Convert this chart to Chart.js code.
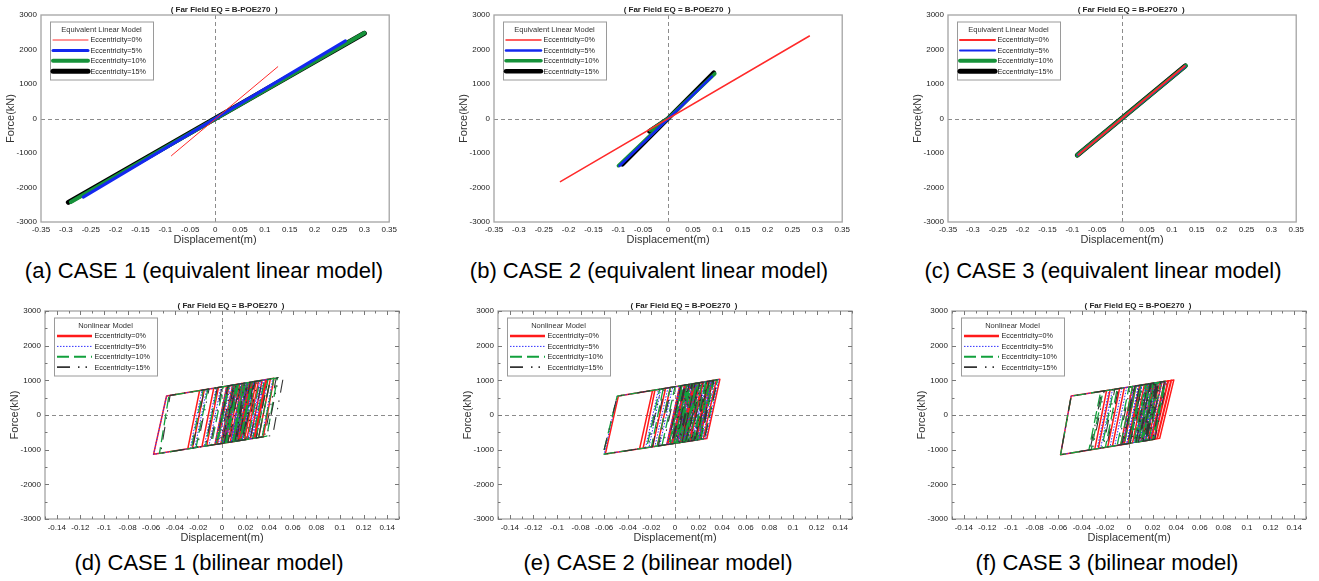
<!DOCTYPE html>
<html>
<head>
<meta charset="utf-8">
<script src="https://cdn.jsdelivr.net/npm/chart.js@4.4.1/dist/chart.umd.min.js"></script>
<style>
  html, body { margin: 0; padding: 0; background: #fff; width: 1319px; height: 581px; overflow: hidden; }
  canvas { position: absolute; }
  .cap { position: absolute; width: 440px; text-align: center; white-space: nowrap;
         font-family: "Liberation Sans", Arial, sans-serif; font-size: 22px; line-height: 26px; color: #000; }
</style>
</head>
<body>
<canvas id="pa" width="400" height="250" style="left:0px;top:0px"></canvas>
<canvas id="pb" width="400" height="250" style="left:453px;top:0px"></canvas>
<canvas id="pc" width="400" height="250" style="left:907px;top:0px"></canvas>
<canvas id="pd" width="400" height="253" style="left:4px;top:296px"></canvas>
<canvas id="pe" width="400" height="253" style="left:457px;top:296px"></canvas>
<canvas id="pf" width="400" height="253" style="left:911px;top:296px"></canvas>
<div class="cap" style="left:-16px;top:258px">(a) CASE 1 (equivalent linear model)</div>
<div class="cap" style="left:429px;top:258px">(b) CASE 2 (equivalent linear model)</div>
<div class="cap" style="left:883px;top:258px">(c) CASE 3 (equivalent linear model)</div>
<div class="cap" style="left:-11px;top:550px">(d) CASE 1 (bilinear model)</div>
<div class="cap" style="left:438px;top:550px">(e) CASE 2 (bilinear model)</div>
<div class="cap" style="left:887px;top:550px">(f) CASE 3 (bilinear model)</div>
<script>
const FONT = '"Liberation Sans", Arial, sans-serif';

// axis ticks
const topXTicks = [-0.35, -0.3, -0.25, -0.2, -0.15, -0.1, -0.05, 0, 0.05, 0.1, 0.15, 0.2, 0.25, 0.3, 0.35];
const botXTicks = [-0.14, -0.12, -0.1, -0.08, -0.06, -0.04, -0.02, 0, 0.02, 0.04, 0.06, 0.08, 0.1, 0.12, 0.14];
const yTicks = [-3000, -2000, -1000, 0, 1000, 2000, 3000];

const seriesNames = ["Eccentricity=0%", "Eccentricity=5%", "Eccentricity=10%", "Eccentricity=15%"];
const plotTitle = "( Far Field EQ = B-POE270  )";

// equivalent linear model  [displacement m, force kN]
const aRed = [[-0.088, -1080], [0.126, 1500]];
const aBlue = [[-0.265, -2280], [0.262, 2250]];
const aGreen = [[-0.29, -2420], [0.30, 2480]];
const aBlack = [[-0.295, -2430], [0.30, 2470]];

const bRed = [[-0.2165, -1832], [0.284, 2391]];
const bBlue = [[-0.098, -1377], [0.088, 1212]];
const bGreen = [[-0.036, -340], [0, 0], [0.094, 1300], [-0.1, -1370]];
const bBlack = [[-0.038, -370], [0, 0], [0.092, 1330], [-0.092, -1330]];

const cRed = [[-0.088, -1050], [0.126, 1520]];
const cBlue = [[-0.089, -1058], [0.127, 1515]];
const cGreen = [[-0.09, -1062], [0.128, 1530]];
const cBlack = [[-0.09, -1060], [0.127, 1525]];

// bilinear model hysteresis turning points
const dRed = [[0,0],[0.006,845],[0.011,873],[0.001,-814],[-0.004,-841],[0.006,845],[0.013,884],[0.003,-803],
  [-0.058,-1135],[-0.047,548],[-0.015,727],[-0.025,-955],[-0.029,-977],[-0.019,705],[-0.003,794],
  [-0.013,-890],[-0.017,-912],[-0.007,772],[0.009,861],[-0.001,-824],[-0.006,-852],[0.004,833],
  [0.017,906],[0.007,-781],[0.002,-808],[0.012,878],[0.024,945],[0.014,-743],[0.009,-770],
  [0.019,917],[0.031,985],[0.021,-705],[0.015,-737],[0.025,951],[0.044,1057],[0.035,-628],
  [0.028,-666],[0.038,1024],[0.041,1041],[0.031,-650],[0.024,-688],[0.034,1001],[0.037,1018],
  [0.027,-672],[0.016,-732],[0.026,957],[0.029,973],[0.019,-716],[0.011,-759],[0.021,929],
  [0.023,940],[0.013,-748],[0.005,-792],[0.015,895],[0.018,912],[0.010,-765],[0.014,100]];
const dBlue = [[0,0],[0.005,839],[0.009,861],[-0.001,-824],[-0.006,-852],[0.004,833],[0.012,878],[0.002,-808],
  [-0.058,-1135],[-0.047,548],[-0.013,738],[-0.023,-944],[-0.027,-966],[-0.017,716],[-0.001,805],
  [-0.011,-879],[-0.015,-901],[-0.005,783],[0.011,873],[0.001,-814],[-0.003,-835],[0.007,850],
  [0.020,923],[0.010,-765],[0.004,-797],[0.014,889],[0.027,962],[0.017,-726],[0.011,-759],
  [0.021,929],[0.033,996],[0.023,-694],[0.017,-726],[0.027,962],[0.043,1052],[0.034,-634],
  [0.026,-677],[0.036,1013],[0.039,1030],[0.029,-661],[0.022,-699],[0.032,990],[0.035,1007],
  [0.025,-683],[0.013,-748],[0.023,940],[0.027,962],[0.017,-726],[0.008,-775],[0.018,912],
  [0.021,929],[0.011,-759],[0.003,-803],[0.013,884],[0.016,901],[0.008,-775],[0.012,80]];
const dGreen = [[0,0],[0.005,839],[0.010,867],[0.000,-819],[-0.005,-846],[0.005,839],[0.012,878],[0.002,-808],
  [-0.053,-1108],[-0.045,559],[-0.012,744],[-0.022,-939],[-0.026,-961],[-0.016,721],[0.001,817],
  [-0.009,-868],[-0.014,-895],[-0.004,789],[0.010,867],[0.000,-819],[-0.004,-841],[0.006,845],
  [0.019,917],[0.009,-770],[0.003,-803],[0.013,884],[0.025,951],[0.015,-737],[0.010,-765],
  [0.020,923],[0.032,990],[0.022,-699],[0.016,-732],[0.026,957],[0.047,1074],[0.038,-612],
  [0.031,-650],[0.041,1041],[0.044,1057],[0.034,-634],[0.026,-677],[0.036,1013],[0.039,1030],
  [0.029,-661],[0.015,-737],[0.025,951],[0.028,968],[0.018,-721],[0.009,-770],[0.019,917],
  [0.022,934],[0.012,-754],[0.004,-797],[0.014,889],[0.017,906],[0.009,-770],[0.015,120]];
const dBlack = [[0,0],[0.006,845],[0.010,867],[0.000,-819],[-0.005,-846],[0.005,839],[0.011,873],[0.001,-814],
  [-0.052,-1102],[-0.044,565],[-0.011,749],[-0.021,-933],[-0.025,-955],[-0.015,727],[0.000,811],
  [-0.010,-874],[-0.014,-895],[-0.004,789],[0.012,878],[0.002,-808],[-0.002,-830],[0.008,856],
  [0.021,929],[0.011,-759],[0.005,-792],[0.015,895],[0.028,968],[0.018,-721],[0.012,-754],
  [0.022,934],[0.034,1001],[0.024,-688],[0.018,-721],[0.028,968],[0.052,1102],[0.043,-585],
  [0.036,-623],[0.046,1069],[0.048,1080],[0.038,-612],[0.029,-661],[0.039,1030],[0.041,1041],
  [0.031,-650],[0.017,-726],[0.027,962],[0.030,979],[0.020,-710],[0.011,-759],[0.021,929],
  [0.024,945],[0.014,-743],[0.006,-786],[0.016,901],[0.019,917],[0.011,-759],[0.016,130]];

const eRed = [[0,0],[0.005,844],[0.009,866],[-0.002,-827],[-0.006,-848],[0.005,844],[0.010,872],[-0.001,-822],
  [-0.059,-1123],[-0.048,548],[-0.017,721],[-0.027,-957],[-0.030,-973],[-0.019,710],[-0.004,794],
  [-0.015,-895],[-0.019,-916],[-0.008,771],[0.008,861],[-0.003,-833],[-0.007,-853],[0.004,838],
  [0.016,905],[0.005,-791],[0.001,-812],[0.012,883],[0.023,945],[0.012,-755],[0.007,-781],
  [0.018,917],[0.029,978],[0.018,-724],[0.013,-750],[0.024,950],[0.038,1028],[0.027,-677],
  [0.021,-708],[0.032,995],[0.035,1012],[0.024,-692],[0.017,-729],[0.028,973],[0.031,989],
  [0.020,-713],[0.010,-765],[0.021,933],[0.024,950],[0.013,-750],[0.006,-786],[0.017,911],
  [0.019,922],[0.008,-775],[0.002,-807],[0.013,889],[0.015,900],[0.004,-796],[0.009,60]];
const eBlue = [[0,0],[0.005,844],[0.008,861],[-0.003,-833],[-0.007,-853],[0.004,838],[0.011,877],[0.000,-817],
  [-0.060,-1128],[-0.049,542],[-0.012,749],[-0.022,-931],[-0.025,-947],[-0.014,738],[-0.002,805],
  [-0.013,-884],[-0.017,-905],[-0.006,782],[0.010,872],[-0.001,-822],[-0.005,-843],[0.006,850],
  [0.018,917],[0.007,-781],[0.002,-807],[0.013,889],[0.025,956],[0.014,-744],[0.009,-770],
  [0.020,928],[0.031,989],[0.020,-713],[0.015,-739],[0.026,961],[0.037,1023],[0.026,-682],
  [0.020,-713],[0.031,989],[0.034,1006],[0.023,-698],[0.016,-734],[0.027,967],[0.030,984],
  [0.019,-718],[0.008,-775],[0.019,922],[0.022,939],[0.011,-760],[0.004,-796],[0.015,900],
  [0.018,917],[0.007,-781],[0.001,-812],[0.012,883],[0.014,894],[0.003,-801],[0.008,50]];
const eGreen = [[0,0],[0.006,850],[0.010,872],[-0.001,-822],[-0.005,-843],[0.006,850],[0.012,883],[0.001,-812],
  [-0.061,-1134],[-0.049,542],[-0.010,760],[-0.020,-921],[-0.024,-942],[-0.013,743],[0.000,816],
  [-0.011,-874],[-0.015,-895],[-0.004,794],[0.011,877],[0.000,-817],[-0.004,-838],[0.007,855],
  [0.019,922],[0.008,-775],[0.003,-801],[0.014,894],[0.026,961],[0.015,-739],[0.010,-765],
  [0.021,933],[0.032,995],[0.021,-708],[0.016,-734],[0.027,967],[0.036,1017],[0.025,-687],
  [0.019,-718],[0.030,984],[0.033,1000],[0.022,-703],[0.015,-739],[0.026,961],[0.029,978],
  [0.018,-724],[0.009,-770],[0.020,928],[0.023,945],[0.012,-755],[0.005,-791],[0.016,905],
  [0.018,917],[0.007,-781],[0.002,-807],[0.013,889],[0.016,905],[0.005,-791],[0.010,70]];
const eBlack = [[0,0],[0.005,844],[0.009,866],[-0.002,-827],[-0.006,-848],[0.005,844],[0.011,877],[0.000,-817],
  [-0.061,-1134],[-0.049,542],[-0.009,766],[-0.019,-916],[-0.023,-936],[-0.012,749],[0.001,822],
  [-0.010,-869],[-0.014,-890],[-0.003,799],[0.012,883],[0.001,-812],[-0.003,-833],[0.008,861],
  [0.020,928],[0.009,-770],[0.004,-796],[0.015,900],[0.027,967],[0.016,-734],[0.011,-760],
  [0.022,939],[0.033,1000],[0.022,-703],[0.017,-729],[0.028,973],[0.036,1017],[0.025,-687],
  [0.018,-724],[0.029,978],[0.032,995],[0.021,-708],[0.014,-744],[0.025,956],[0.028,973],
  [0.017,-729],[0.010,-765],[0.021,933],[0.024,950],[0.013,-750],[0.006,-786],[0.017,911],
  [0.020,928],[0.009,-770],[0.003,-801],[0.014,894],[0.017,911],[0.006,-786],[0.011,80]];

const fRed = [[0,0],[0.005,835],[0.009,856],[-0.001,-826],[-0.005,-848],[0.005,835],[0.010,862],[0.000,-820],
  [-0.058,-1145],[-0.049,545],[-0.016,722],[-0.026,-966],[-0.029,-982],[-0.019,706],[-0.004,786],
  [-0.014,-898],[-0.018,-921],[-0.008,765],[0.006,840],[-0.004,-842],[-0.007,-859],[0.003,824],
  [0.013,878],[0.003,-803],[-0.001,-826],[0.009,856],[0.021,921],[0.011,-758],[0.006,-786],
  [0.016,894],[0.038,1012],[0.026,-674],[0.0235,-688],[0.0355,999],[0.036,1001],[0.024,-686],
  [0.021,-702],[0.033,985],[0.0335,988],[0.0215,-700],[0.018,-719],[0.0305,972],[0.031,974],
  [0.019,-713],[0.014,-742],[0.026,948],[0.028,958],[0.016,-730],[0.012,-753],[0.022,926],
  [0.024,937],[0.014,-742],[0.008,-775],[0.018,905],[0.020,915],[0.010,-764],[0.015,70]];
const fBlue = [[0,0],[0.005,835],[0.008,851],[-0.002,-831],[-0.006,-854],[0.004,829],[0.011,867],[0.001,-814],
  [-0.058,-1145],[-0.049,545],[-0.014,733],[-0.024,-954],[-0.027,-971],[-0.017,717],[-0.002,797],
  [-0.012,-887],[-0.016,-910],[-0.006,776],[0.008,851],[-0.002,-831],[-0.005,-848],[0.005,835],
  [0.015,889],[0.005,-792],[0.001,-814],[0.011,867],[0.023,932],[0.013,-747],[0.008,-775],
  [0.018,905],[0.031,974],[0.021,-702],[0.015,-736],[0.025,942],[0.028,958],[0.018,-719],
  [0.012,-753],[0.022,926],[0.025,942],[0.015,-736],[0.010,-764],[0.020,915],[0.023,932],
  [0.013,-747],[0.007,-781],[0.017,899],[0.019,910],[0.009,-770],[0.004,-798],[0.014,883],
  [0.016,894],[0.006,-786],[0.011,50]];
const fGreen = [[0,0],[0.006,840],[0.010,862],[0.000,-820],[-0.004,-842],[0.006,840],[0.011,867],[0.001,-814],
  [-0.058,-1145],[-0.049,545],[-0.022,690],[-0.032,-999],[-0.034,-1010],[-0.024,679],[-0.010,754],
  [-0.020,-932],[-0.023,-949],[-0.013,738],[0.003,824],[-0.007,-859],[-0.010,-876],[0.000,808],
  [0.014,883],[0.004,-798],[0.000,-820],[0.010,862],[0.022,926],[0.012,-753],[0.007,-781],
  [0.017,899],[0.030,969],[0.020,-708],[0.014,-742],[0.024,937],[0.031,974],[0.021,-702],
  [0.015,-736],[0.025,942],[0.027,953],[0.017,-725],[0.011,-758],[0.021,921],[0.024,937],
  [0.014,-742],[0.008,-775],[0.018,905],[0.020,915],[0.010,-764],[0.005,-792],[0.015,889],
  [0.017,899],[0.007,-781],[0.012,60]];
const fBlack = [[0,0],[0.005,835],[0.009,856],[-0.001,-826],[-0.005,-848],[0.005,835],[0.012,872],[0.002,-809],
  [-0.058,-1145],[-0.049,545],[-0.021,695],[-0.031,-994],[-0.033,-1005],[-0.023,685],[-0.009,760],
  [-0.019,-926],[-0.022,-943],[-0.012,744],[0.004,829],[-0.006,-854],[-0.009,-870],[0.001,813],
  [0.015,889],[0.005,-792],[0.001,-814],[0.011,867],[0.023,932],[0.013,-747],[0.008,-775],
  [0.018,905],[0.032,980],[0.022,-697],[0.016,-730],[0.026,948],[0.030,969],[0.020,-708],
  [0.014,-742],[0.024,937],[0.027,953],[0.017,-725],[0.012,-753],[0.022,926],[0.025,942],
  [0.015,-736],[0.009,-770],[0.019,910],[0.021,921],[0.011,-758],[0.006,-786],[0.016,894],
  [0.018,905],[0.008,-775],[0.013,70]];

// styles
const linStyle = {
  a: [{c: "#ff2a2a", w: 1}, {c: "#1428f0", w: 3}, {c: "#16923a", w: 4}, {c: "#000", w: 5}],
  b: [{c: "#ff2a2a", w: 1.5}, {c: "#1428f0", w: 2.5}, {c: "#16923a", w: 3.5}, {c: "#000", w: 4.5}],
  c: [{c: "#ff2a2a", w: 2}, {c: "#1428f0", w: 2}, {c: "#16923a", w: 4}, {c: "#000", w: 5}]
};
const bilStyle = [
  {c: "#ff1a1a", w: 1.5, lw: 2.5, dash: [], order: 4},
  {c: "#3030ff", w: 1, lw: 1, dash: [1.5, 1.5], order: 3},
  {c: "#12a03c", w: 1.3, lw: 2, dash: [12, 5], order: 2},
  {c: "#333", w: 1.1, lw: 1.8, dash: [13, 8, 1.5, 6, 1.5, 8], order: 1}
];

// frame, zero lines, tick marks, title and legend
Chart.register({
  id: 'deco',
  beforeDatasetsDraw(chart, args, o) {
    const {ctx, chartArea: a, scales: {x, y}} = chart;
    const x0 = Math.round(x.getPixelForValue(0)) + 0.5;
    const y0 = Math.round(y.getPixelForValue(0)) + 0.5;
    ctx.save();
    ctx.strokeStyle = '#8c8c8c';
    ctx.lineWidth = 1;
    ctx.setLineDash([4, 3]);
    ctx.beginPath();
    ctx.moveTo(x0, a.top); ctx.lineTo(x0, a.bottom);
    ctx.moveTo(a.left, y0); ctx.lineTo(a.right, y0);
    ctx.stroke();
    ctx.restore();
  },
  afterDatasetsDraw(chart, args, o) {
    const {ctx, chartArea: a, scales: {x, y}} = chart;
    ctx.save();
    ctx.setLineDash([]);
    ctx.strokeStyle = '#a4a4a4';
    ctx.lineWidth = 1.3;
    ctx.strokeRect(a.left, a.top, a.right - a.left, a.bottom - a.top);

    if (o.tickMarks) {
      ctx.strokeStyle = '#777';
      ctx.lineWidth = 1;
      ctx.beginPath();
      for (let k = -15; k <= 15; k++) {
        const px = Math.round(x.getPixelForValue(k / 100)) + 0.5;
        const len = k % 2 === 0 ? 4 : 2.5;
        ctx.moveTo(px, a.bottom); ctx.lineTo(px, a.bottom - len);
        ctx.moveTo(px, a.top); ctx.lineTo(px, a.top + len);
      }
      for (let k = -6; k <= 6; k++) {
        const py = Math.round(y.getPixelForValue(k * 500)) + 0.5;
        const len = k % 2 === 0 ? 4 : 2.5;
        ctx.moveTo(a.left, py); ctx.lineTo(a.left + len, py);
        ctx.moveTo(a.right, py); ctx.lineTo(a.right - len, py);
      }
      ctx.stroke();
    }

    // title
    ctx.fillStyle = '#222';
    ctx.font = 'bold 8px ' + FONT;
    ctx.textAlign = 'center';
    ctx.textBaseline = 'middle';
    ctx.fillText(plotTitle, (a.left + a.right) / 2 + 9, a.top - 5);

    // legend
    const L = a.left + 9, T = a.top + 6.5, W = 103, H = 58;
    ctx.fillStyle = '#fff';
    ctx.fillRect(L, T, W, H);
    ctx.strokeStyle = '#9a9a9a';
    ctx.lineWidth = 1;
    ctx.strokeRect(L + 0.5, T + 0.5, W, H);
    ctx.fillStyle = '#333';
    ctx.font = '7.5px ' + FONT;
    ctx.fillText(o.legendTitle, L + W / 2, a.top + 14.5);
    ctx.textAlign = 'left';
    ctx.font = '7.2px ' + FONT;
    chart.data.datasets.forEach((ds, i) => {
      const ry = a.top + 25 + i * 10.4;
      ctx.save();
      ctx.strokeStyle = ds.borderColor;
      ctx.lineWidth = ds.legendWidth || ds.borderWidth;
      ctx.setLineDash(ds.borderDash || []);
      ctx.lineCap = ds.borderCapStyle || 'butt';
      ctx.beginPath();
      ctx.moveTo(a.left + 12, ry); ctx.lineTo(a.left + 47, ry);
      ctx.stroke();
      ctx.restore();
      ctx.fillStyle = '#222';
      ctx.fillText(ds.label, a.left + 49.5, ry + 0.5);
    });
    ctx.restore();
  }
});

function makeChart(id, series, styles, xTicks, xRange, xAxisH, legendTitle, tickMarks) {
  return new Chart(document.getElementById(id), {
    type: 'scatter',
    data: {
      datasets: series.map((pts, i) => ({
        label: seriesNames[i],
        data: pts.map(p => ({x: p[0], y: p[1]})),
        showLine: true,
        pointRadius: 0,
        pointHoverRadius: 0,
        borderColor: styles[i].c,
        borderWidth: styles[i].w,
        legendWidth: styles[i].lw,
        borderDash: styles[i].dash || [],
        borderCapStyle: styles[i].dash ? 'butt' : 'round',
        borderJoinStyle: 'round',
        tension: 0,
        fill: false,
        order: styles[i].order || i
      }))
    },
    options: {
      responsive: false,
      animation: false,
      devicePixelRatio: 1,
      events: [],
      layout: {padding: {top: 15, right: 5, left: 0, bottom: 0}},
      plugins: {
        legend: {display: false},
        tooltip: {enabled: false},
        deco: {legendTitle, tickMarks}
      },
      scales: {
        x: {
          type: 'linear', min: -xRange, max: xRange,
          afterBuildTicks: s => { s.ticks = xTicks.map(v => ({value: v})); },
          afterFit: s => { s.height = xAxisH; },
          grid: {display: false, drawTicks: false},
          border: {display: false},
          ticks: {autoSkip: false, maxRotation: 0, minRotation: 0, padding: xAxisH > 28 ? 4 : 3,
                   color: '#222', font: {family: FONT, size: 8}, callback: v => String(v)},
          title: {display: true, text: 'Displacement(m)', color: '#333',
                  font: {family: FONT, size: 11}, padding: {top: 0, bottom: xAxisH > 28 ? 4.4 : 3.4}}
        },
        y: {
          type: 'linear', min: -3000, max: 3000,
          afterBuildTicks: s => { s.ticks = yTicks.map(v => ({value: v})); },
          afterFit: s => { s.width = 41; },
          grid: {display: false, drawTicks: false},
          border: {display: false},
          ticks: {autoSkip: false, padding: 4, color: '#222', font: {family: FONT, size: 8},
                  callback: v => String(v)},
          title: {display: true, text: 'Force(kN)', color: '#333',
                  font: {family: FONT, size: 11}, padding: {top: 4, bottom: 0}}
        }
      }
    }
  });
}

makeChart('pa', [aRed, aBlue, aGreen, aBlack], linStyle.a, topXTicks, 0.35, 28, 'Equivalent Linear Model', false);
makeChart('pb', [bRed, bBlue, bGreen, bBlack], linStyle.b, topXTicks, 0.35, 28, 'Equivalent Linear Model', false);
makeChart('pc', [cRed, cBlue, cGreen, cBlack], linStyle.c, topXTicks, 0.35, 28, 'Equivalent Linear Model', false);
makeChart('pd', [dRed, dBlue, dGreen, dBlack], bilStyle, botXTicks, 0.15, 30, 'Nonlinear Model', true);
makeChart('pe', [eRed, eBlue, eGreen, eBlack], bilStyle, botXTicks, 0.15, 30, 'Nonlinear Model', true);
makeChart('pf', [fRed, fBlue, fGreen, fBlack], bilStyle, botXTicks, 0.15, 30, 'Nonlinear Model', true);
</script>
</body>
</html>
